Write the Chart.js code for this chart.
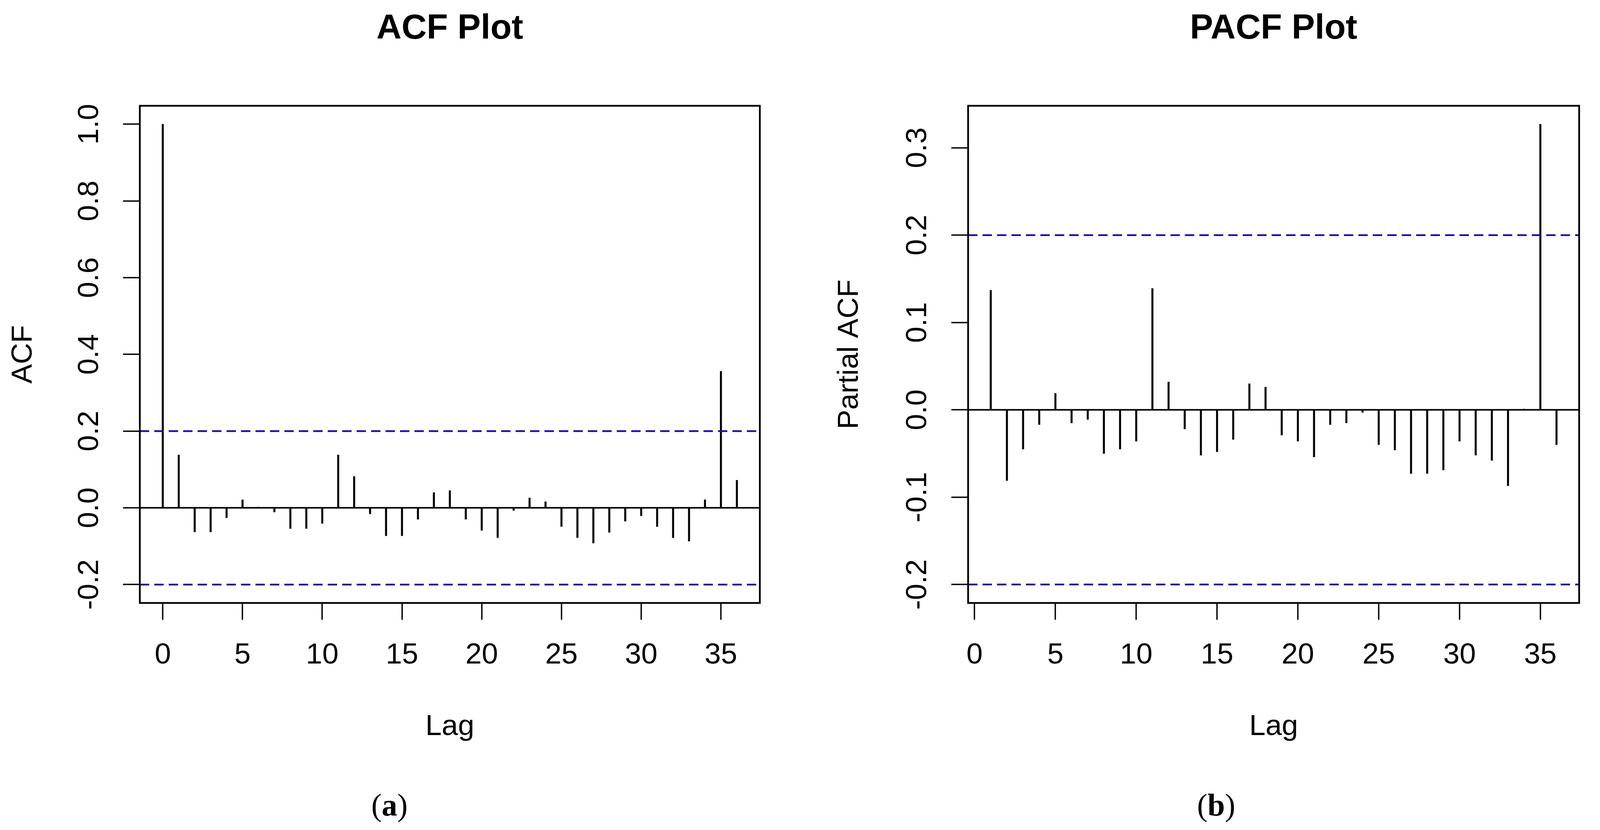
<!DOCTYPE html>
<html>
<head>
<meta charset="utf-8">
<script src="https://cdn.jsdelivr.net/npm/chart.js@4.4.1/dist/chart.umd.min.js"></script>
<style>
  html, body { margin: 0; padding: 0; background: #fff; }
  body { height: 2124px; position: relative; overflow: hidden; }
  canvas { position: absolute; top: 0; }
  .cap {
    position: absolute; width: 300px; text-align: center; top: 2020px;
    font-family: 'Liberation Serif', 'Times New Roman', serif;
    font-size: 80px; line-height: 80px; color: #000;
  }
</style>
</head>
<body>
<canvas id="acf-chart"></canvas>
<canvas id="pacf-chart"></canvas>
<div class="cap" id="cap-a">(<b>a</b>)</div>
<div class="cap" id="cap-b">(<b>b</b>)</div>
<script>
// ── Data ──────────────────────────────────────────────────────────────────

const acfLags = [0, 1, 2, 3, 4, 5, 6, 7, 8, 9, 10, 11, 12, 13, 14, 15, 16, 17, 18,
                 19, 20, 21, 22, 23, 24, 25, 26, 27, 28, 29, 30, 31, 32, 33, 34, 35, 36];
const acfValues = [1.000, 0.138, -0.063, -0.063, -0.026, 0.021, 0.002, -0.011, -0.054,
                   -0.054, -0.041, 0.138, 0.082, -0.016, -0.073, -0.073, -0.030, 0.040,
                   0.045, -0.030, -0.059, -0.078, -0.007, 0.026, 0.016, -0.049, -0.078,
                   -0.092, -0.064, -0.035, -0.021, -0.049, -0.078, -0.087, 0.021, 0.356, 0.072];

const pacfLags = [1, 2, 3, 4, 5, 6, 7, 8, 9, 10, 11, 12, 13, 14, 15, 16, 17, 18,
                  19, 20, 21, 22, 23, 24, 25, 26, 27, 28, 29, 30, 31, 32, 33, 34, 35, 36];
const pacfValues = [0.137, -0.081, -0.045, -0.017, 0.019, -0.015, -0.011, -0.050, -0.045,
                    -0.036, 0.139, 0.032, -0.022, -0.052, -0.048, -0.034, 0.030, 0.026,
                    -0.029, -0.036, -0.054, -0.017, -0.015, -0.003, -0.040, -0.046, -0.073,
                    -0.073, -0.069, -0.036, -0.052, -0.058, -0.087, 0.001, 0.327, -0.040];

const lagTicks = [0, 5, 10, 15, 20, 25, 30, 35];
const acfYTicks = [-0.2, 0.0, 0.2, 0.4, 0.6, 0.8, 1.0];
const pacfYTicks = [-0.2, -0.1, 0.0, 0.1, 0.2, 0.3];
const ciLevel = 0.2;

// ── Page layout (reference is 4219 wide; squeeze x if the window is narrower) ──

const REF_W = 4219;
const CANVAS_H = 1960;
const sx = Math.min(1, window.innerWidth / REF_W);
const pageW = Math.round(REF_W * sx);
document.body.style.width = pageW + 'px';

const splitX = Math.round(2110 * sx);

document.getElementById('cap-a').style.left = (1027 * sx - 150) + 'px';
document.getElementById('cap-b').style.left = (3207 * sx - 150) + 'px';

// ── Chart helpers ─────────────────────────────────────────────────────────

const SANS = "'Liberation Sans', Arial, sans-serif";
const CI_BLUE = '#1c0f9c';
const TICK_LEN = 43;

// box round the plot region, like R's box()
const framePlugin = {
  id: 'frame',
  afterDraw(chart) {
    const { ctx, chartArea: a } = chart;
    ctx.save();
    ctx.strokeStyle = '#000';
    ctx.lineWidth = 4.5;
    ctx.strokeRect(a.left, a.top, a.right - a.left, a.bottom - a.top);
    ctx.restore();
  }
};

function hline(y, xr, color, dash, width, order) {
  return {
    type: 'line',
    data: [{ x: xr[0], y }, { x: xr[1], y }],
    borderColor: color,
    borderWidth: width,
    borderDash: dash,
    pointRadius: 0,
    fill: false,
    order
  };
}

function buildCorrChart(canvasId, o) {
  const canvas = document.getElementById(canvasId);
  canvas.width = o.canvasW;
  canvas.height = CANVAS_H;
  canvas.style.left = o.canvasX + 'px';
  const ctx = canvas.getContext('2d');

  const plotLeft = o.plotLeft * sx - o.canvasX;
  const plotRight = o.plotRight * sx - o.canvasX;
  const yLabelPad = plotLeft - TICK_LEN - 64.6 - (o.yLabelX * sx - o.canvasX);
  const yTitlePad = o.yTitleX * sx - o.canvasX - 45;

  return new Chart(ctx, {
    type: 'bar',
    data: {
      datasets: [
        {
          data: o.lags.map((l, i) => ({ x: l, y: o.values[i] })),
          backgroundColor: '#000',
          barThickness: 4.5,
          order: 3
        },
        hline(0, o.xRange, '#000', [], 4, 2),
        hline(ciLevel, o.xRange, CI_BLUE, [24, 13], 4.5, 1),
        hline(-ciLevel, o.xRange, CI_BLUE, [24, 13], 4.5, 1)
      ]
    },
    options: {
      responsive: false,
      devicePixelRatio: 1,
      animation: false,
      layout: { padding: { left: 0, top: 0, bottom: 0, right: o.canvasW - plotRight } },
      plugins: {
        legend: { display: false },
        tooltip: { enabled: false },
        title: {
          display: true,
          text: o.title,
          fullSize: false,
          color: '#000',
          font: { family: SANS, size: 89, weight: 'bold' },
          padding: { top: 21, bottom: 142.9 }
        }
      },
      scales: {
        x: {
          type: 'linear',
          min: o.xRange[0],
          max: o.xRange[1],
          offset: false,
          afterBuildTicks: s => { s.ticks = lagTicks.map(v => ({ value: v })); },
          afterFit: s => { s.height = CANVAS_H - o.plotBottom; },
          grid: { display: true, drawOnChartArea: false, drawTicks: true, tickLength: TICK_LEN,
                  tickWidth: 3.5, tickColor: '#000', offset: false },
          border: { display: false },
          ticks: { autoSkip: false, maxRotation: 0, minRotation: 0, padding: 46,
                   color: '#000', font: { family: SANS, size: 75 } },
          title: { display: true, text: 'Lag', color: '#000',
                   font: { family: SANS, size: 75 }, padding: { top: 0, bottom: 55 } }
        },
        y: {
          type: 'linear',
          min: o.yRange[0],
          max: o.yRange[1],
          afterBuildTicks: s => { s.ticks = o.yTicks.map(v => ({ value: v })); },
          afterFit: s => { s.width = plotLeft; },
          grid: { display: true, drawOnChartArea: false, drawTicks: true, tickLength: TICK_LEN,
                  tickWidth: 3.5, tickColor: '#000' },
          border: { display: false },
          ticks: {
            autoSkip: false, minRotation: 90, maxRotation: 90, crossAlign: 'center',
            padding: yLabelPad, color: '#000', font: { family: SANS, size: 75 },
            callback: v => v.toFixed(1)
          },
          title: { display: true, text: o.yTitle, color: '#000',
                   font: { family: SANS, size: 75 }, padding: { top: yTitlePad, bottom: 0 } }
        }
      }
    },
    plugins: [framePlugin]
  });
}

buildCorrChart('acf-chart', {
  title: 'ACF Plot',
  yTitle: 'ACF',
  lags: acfLags,
  values: acfValues,
  yTicks: acfYTicks,
  xRange: [-1.44, 37.44],
  yRange: [-0.248, 1.048],
  canvasX: 0,
  canvasW: splitX,
  plotLeft: 368.7,
  plotRight: 2003.6,
  plotBottom: 1543,
  yLabelX: 237.5,
  yTitleX: 62
});

buildCorrChart('pacf-chart', {
  title: 'PACF Plot',
  yTitle: 'Partial ACF',
  lags: pacfLags,
  values: pacfValues,
  yTicks: pacfYTicks,
  xRange: [-0.4, 37.4],
  yRange: [-0.2211, 0.3481],
  canvasX: splitX,
  canvasW: pageW - splitX,
  plotLeft: 2552.8,
  plotRight: 4164,
  plotBottom: 1543,
  yLabelX: 2420.5,
  yTitleX: 2240.5
});
</script>
</body>
</html>
